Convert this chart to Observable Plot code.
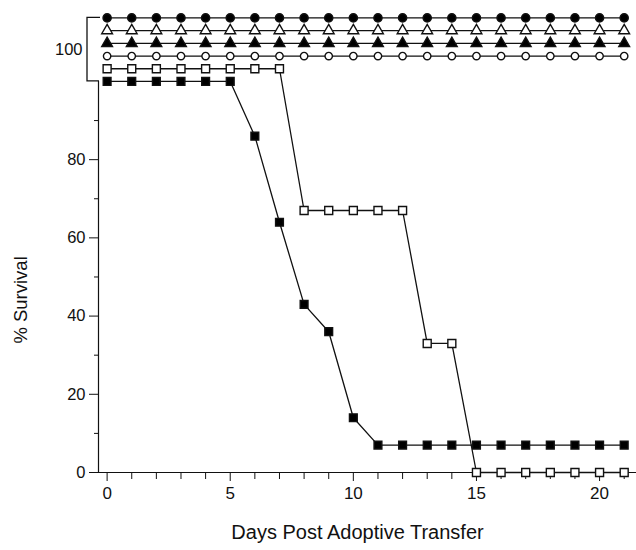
<!DOCTYPE html>
<html>
<head>
<meta charset="utf-8">
<script src="https://cdn.jsdelivr.net/npm/d3@7"></script>
<script src="https://cdn.jsdelivr.net/npm/@observablehq/plot@0.6"></script>
<style>
  html, body { margin: 0; padding: 0; background: #fff; }
  #chart svg { display: block; }
</style>
</head>
<body>
<div id="chart"></div>
<script>
// ---------- data ----------
const days = [0,1,2,3,4,5,6,7,8,9,10,11,12,13,14,15,16,17,18,19,20,21];

// % survival per group (top to bottom in the 100% bracket)
const survFilledCircle   = [100,100,100,100,100,100,100,100,100,100,100,100,100,100,100,100,100,100,100,100,100,100];
const survOpenTriangle   = [100,100,100,100,100,100,100,100,100,100,100,100,100,100,100,100,100,100,100,100,100,100];
const survFilledTriangle = [100,100,100,100,100,100,100,100,100,100,100,100,100,100,100,100,100,100,100,100,100,100];
const survOpenCircle     = [100,100,100,100,100,100,100,100,100,100,100,100,100,100,100,100,100,100,100,100,100,100];
const survOpenSquare     = [100,100,100,100,100,100,100,100,67,67,67,67,67,33,33,0,0,0,0,0,0,0];
const survFilledSquare   = [100,100,100,100,100,100,86,64,43,36,14,7,7,7,7,7,7,7,7,7,7,7];

const seriesNames = ["filled circle","open triangle","filled triangle","open circle","open square","filled square"];
const seriesValues = [survFilledCircle, survOpenTriangle, survFilledTriangle, survOpenCircle, survOpenSquare, survFilledSquare];

const xTicks = [0,5,10,15,20];
const xMinorTicks = [1,2,3,4,6,7,8,9,11,12,13,14,16,17,18,19,21];
const yTicks = [0,20,40,60,80];
const yMinorTicks = [10,30,50,70,90];
const bracketLabel = "100";
const xLabel = "Days Post Adoptive Transfer";
const yLabel = "% Survival";

// ---------- styles / layout ----------
const seriesSymbol = ["circle","triangle","triangle","circle","square","square"];
const seriesFill   = ["black","white","black","white","white","black"];
const seriesR      = [4.1, 4.0, 4.0, 3.7, 4.5, 4.4];
const levelSpacing = 3.25;   // vertical separation of the overlapping 100% groups (data units)
const nLevels = seriesNames.length - 1;

const rows = [];
seriesNames.forEach((name, i) => {
  seriesValues[i].forEach((v, j) => {
    rows.push({
      series: name,
      day: days[j],
      value: v,
      yShow: v >= 100 ? 100 + (nLevels - i) * levelSpacing : v
    });
  });
});

const font = "'Liberation Sans', Arial, Helvetica, sans-serif";
const xDomain = [-0.35, 21.5];
const yDomain = [0, 120.7];
const topLevel = 100 + nLevels * levelSpacing;

const marks = [
  Plot.ruleY([0], {stroke: "#111", strokeWidth: 1.2}),
  Plot.ruleX([xDomain[0]], {y1: 0, y2: 100, stroke: "#111", strokeWidth: 1.2}),
  Plot.axisX({ticks: xTicks, tickSize: 9, tickPadding: 5, fontSize: 17, label: null, tickFormat: d => String(d)}),
  Plot.axisX({ticks: xMinorTicks, tickSize: 7, text: null, label: null}),
  Plot.axisY({ticks: yTicks, tickSize: 9, tickPadding: 4, fontSize: 16.5, label: null, tickFormat: d => String(d)}),
  Plot.axisY({ticks: yMinorTicks, tickSize: 4, text: null, label: null}),
  Plot.text([bracketLabel], {text: d => d, y: 100 + nLevels * levelSpacing / 2, frameAnchor: "left", dx: -16, textAnchor: "end", fontSize: 16.5}),
  Plot.text([xLabel], {text: d => d, frameAnchor: "bottom", dy: 66, dx: -10, fontSize: 20})
];

seriesNames.forEach((name, i) => {
  const data = rows.filter(r => r.series === name);
  marks.push(Plot.line(data, {x: "day", y: "yShow", stroke: "#111", strokeWidth: 1.3}));
});
seriesNames.forEach((name, i) => {
  const data = rows.filter(r => r.series === name);
  marks.push(Plot.dot(data, {
    x: "day", y: "yShow",
    symbol: () => seriesSymbol[i],
    r: seriesR[i],
    fill: seriesFill[i],
    stroke: "#111",
    strokeWidth: 1.4
  }));
});

const plot = Plot.plot({
  width: 636,
  height: 550,
  marginLeft: 98,
  marginRight: 0,
  marginTop: 0,
  marginBottom: 78,
  x: {domain: xDomain},
  y: {domain: yDomain},
  symbol: {type: "identity"},
  style: {fontFamily: font, color: "#111", background: "white", overflow: "visible"},
  marks
});

const sx = plot.scale("x"), sy = plot.scale("y");
const X0 = sx.apply(xDomain[0]);
const svg = d3.select(plot);

// bracket grouping the 100% curves
svg.append("path")
  .attr("d", `M${X0 + 1},${sy.apply(100)}H${X0 - 11}V${sy.apply(topLevel)}H${X0 + 2}`)
  .attr("fill", "none")
  .attr("stroke", "#111")
  .attr("stroke-width", 1.3);

// y-axis title (rotated)
svg.append("text")
  .attr("transform", `translate(${X0 - 76},${sy.apply(44)}) rotate(-90)`)
  .attr("text-anchor", "middle")
  .attr("dominant-baseline", "middle")
  .attr("font-family", font)
  .attr("font-size", 18.5)
  .attr("fill", "#111")
  .text(yLabel);

document.getElementById("chart").appendChild(plot);
</script>
</body>
</html>
